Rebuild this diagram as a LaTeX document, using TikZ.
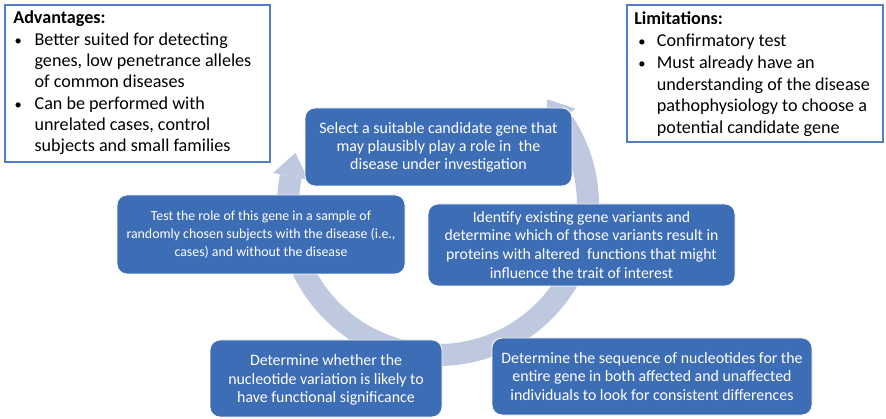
\documentclass[tikz,border=0pt]{standalone}
\usepackage{fontspec}
\setmainfont{Carlito}
\usetikzlibrary{calc}
\definecolor{stepblue}{RGB}{61,109,180}
\definecolor{ringblue}{RGB}{190,201,224}
\definecolor{frameblue}{RGB}{84,124,196}
\tikzset{
  stepbox/.style={draw=white, line width=0.6pt, fill=stepblue, rounded corners=7.5pt,
    text=white, align=center, inner sep=2pt},
  size/.style 2 args={minimum width=#1*0.75pt, minimum height=#2*0.75pt},
  notetext/.style={anchor=north west, align=left, inner sep=0pt,
    font=\fontsize{13.6}{16}\selectfont},
}
\newcommand{\bul}[1]{\makebox[#1][l]{\scalebox{0.8}{•}}}
\begin{document}
\begin{tikzpicture}[x=0.75pt,y=0.75pt]
\useasboundingbox (0,0) rectangle (886,418);

% cycle ring behind the steps
\coordinate (c) at (438,213);
\draw[ringblue, line width=16.5pt, line cap=butt]
  ($(c)+(35:150)$) arc[start angle=35, end angle=-191, radius=150];
\fill[ringblue] ($(c)+(35:150)+(35:18)$) -- ($(c)+(35:150)+(125:24)$)
  -- ($(c)+(35:150)+(215:18)$) -- cycle;
\fill[ringblue] ($(c)+(169:150)+(169:18)$) -- ($(c)+(169:150)+(79:24)$)
  -- ($(c)+(169:150)+(-11:18)$) -- cycle;

% note boxes
\draw[frameblue, line width=0.8pt] (5,256) rectangle (270,413);
\node[notetext] (adv) at (13,407) {\textbf{Advantages:}\\
  \hspace*{1pt}\bul{15pt}Better suited for detecting\\
  \hspace*{16pt}genes, low penetrance alleles\\
  \hspace*{16pt}of common diseases\\
  \hspace*{1pt}\bul{15pt}Can be performed with\\
  \hspace*{16pt}unrelated cases, control\\
  \hspace*{16pt}subjects and small families};

\draw[frameblue, line width=0.8pt] (627,276) rectangle (883,413);
\node[notetext, font=\fontsize{13.6}{16.2}\selectfont] (lim) at (634,407) {\textbf{Limitations:}\\[1pt]
  \hspace*{3pt}\bul{14pt}Confirmatory test\\
  \hspace*{3pt}\bul{14pt}Must already have an\\
  \hspace*{17pt}understanding of the disease\\
  \hspace*{17pt}pathophysiology to choose a\\
  \hspace*{17pt}potential candidate gene};

% steps of the cycle
\node[stepbox, size={267}{78}, font=\fontsize{12}{13.6}\selectfont]
  (select) at (438.5,271) {Select a suitable candidate gene that\\may plausibly play a role in~ the\\disease under investigation};
\node[stepbox, size={288}{79}, font=\fontsize{10.4}{13.5}\selectfont]
  (test) at (261,183.5) {Test the role of this gene in a sample of\\randomly chosen subjects with the disease (i.e.,\\cases) and without the disease};
\node[stepbox, size={307}{82}, font=\fontsize{11.8}{14.2}\selectfont]
  (identify) at (581.5,173) {Identify existing gene variants and\\determine which of those variants result in\\proteins with altered~ functions that might\\influence the trait of interest};
\node[stepbox, size={232}{77}, font=\fontsize{11.9}{14.2}\selectfont, text depth=-3pt]
  (whether) at (326,39.5) {Determine whether the\\nucleotide variation is likely to\\have functional significance};
\node[stepbox, size={320}{77}, font=\fontsize{11.9}{14.2}\selectfont]
  (sequence) at (652,41.5) {Determine the sequence of nucleotides for the\\entire gene in both affected and unaffected\\individuals to look for consistent differences};
\end{tikzpicture}
\end{document}
